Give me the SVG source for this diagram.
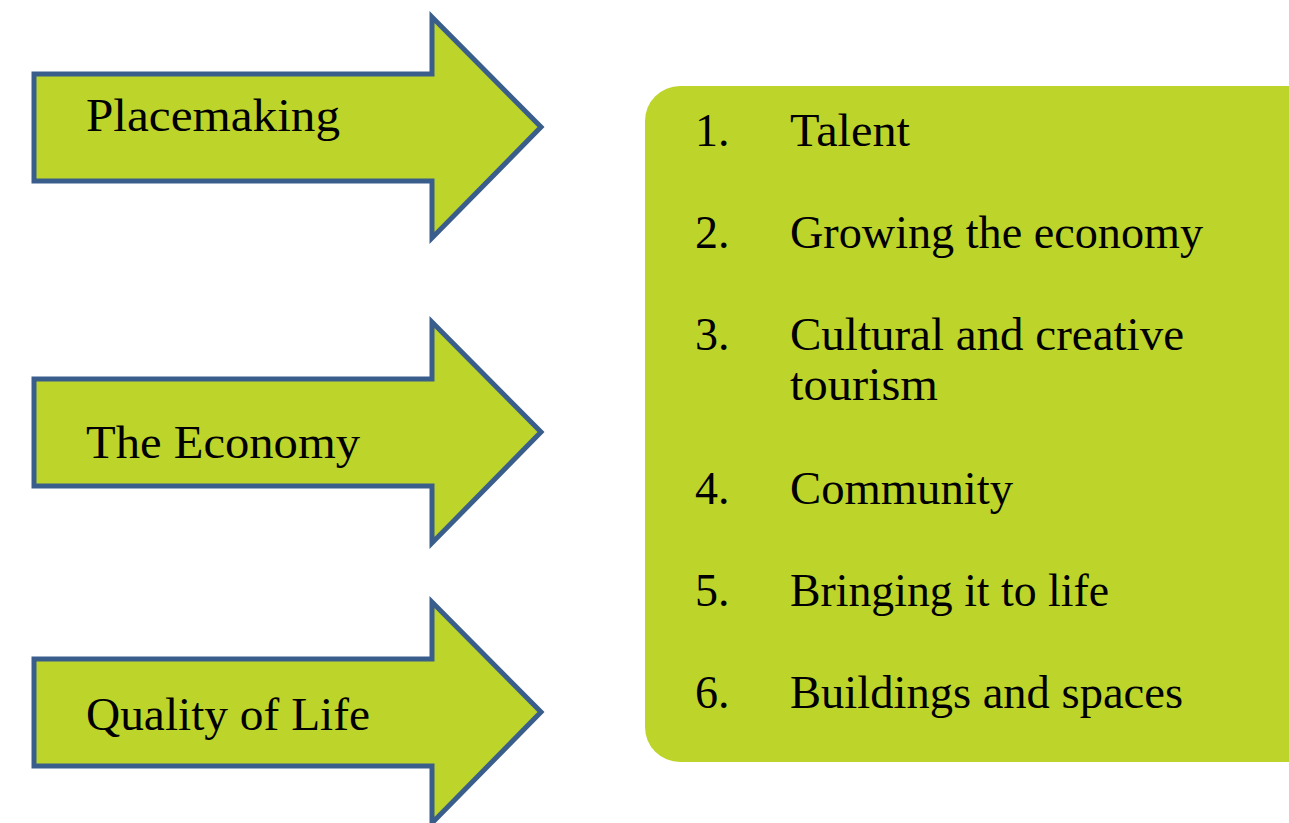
<svg xmlns="http://www.w3.org/2000/svg" width="1289" height="823" viewBox="0 0 1289 823">
<style>
.arrow{fill:#BDD42A;stroke:#3A5E8C;stroke-width:5;stroke-linejoin:miter}
.lbl{font-family:'Liberation Serif','Times New Roman',serif;font-size:46px;fill:#000}
.box{fill:#BDD42A}
</style>
<rect width="1289" height="823" fill="#fff"/>
<g id="connectors"></g>
<g id="placemaking">
<polygon class="arrow" points="34,74 432,74 432,17 541,127 432,238 432,181 34,181"/>
<text class="lbl" x="86" y="131" textLength="254" lengthAdjust="spacingAndGlyphs">Placemaking</text>
</g>
<g id="economy">
<polygon class="arrow" points="34,379 432,379 432,322 541,432 432,543 432,486 34,486"/>
<text class="lbl" x="86" y="458" textLength="274" lengthAdjust="spacingAndGlyphs">The Economy</text>
</g>
<g id="quality">
<polygon class="arrow" points="34,659 432,659 432,602 541,712 432,823 432,766 34,766"/>
<text class="lbl" x="86" y="730" textLength="284" lengthAdjust="spacingAndGlyphs">Quality of Life</text>
</g>
<g id="list">
<rect class="box" x="645" y="86" width="700" height="676" rx="35" ry="35"/>
<text class="lbl" x="695" y="146">1.</text>
<text class="lbl" x="790" y="146" textLength="120" lengthAdjust="spacingAndGlyphs">Talent</text>
<text class="lbl" x="695" y="248">2.</text>
<text class="lbl" x="790" y="248" textLength="413" lengthAdjust="spacingAndGlyphs">Growing the economy</text>
<text class="lbl" x="695" y="350">3.</text>
<text class="lbl" x="790" y="350" textLength="394" lengthAdjust="spacingAndGlyphs">Cultural and creative</text>
<text class="lbl" x="790" y="400" textLength="148" lengthAdjust="spacingAndGlyphs">tourism</text>
<text class="lbl" x="695" y="504">4.</text>
<text class="lbl" x="790" y="504" textLength="223" lengthAdjust="spacingAndGlyphs">Community</text>
<text class="lbl" x="695" y="606">5.</text>
<text class="lbl" x="790" y="606" textLength="319" lengthAdjust="spacingAndGlyphs">Bringing it to life</text>
<text class="lbl" x="695" y="708">6.</text>
<text class="lbl" x="790" y="708" textLength="393" lengthAdjust="spacingAndGlyphs">Buildings and spaces</text>
</g>
</svg>
